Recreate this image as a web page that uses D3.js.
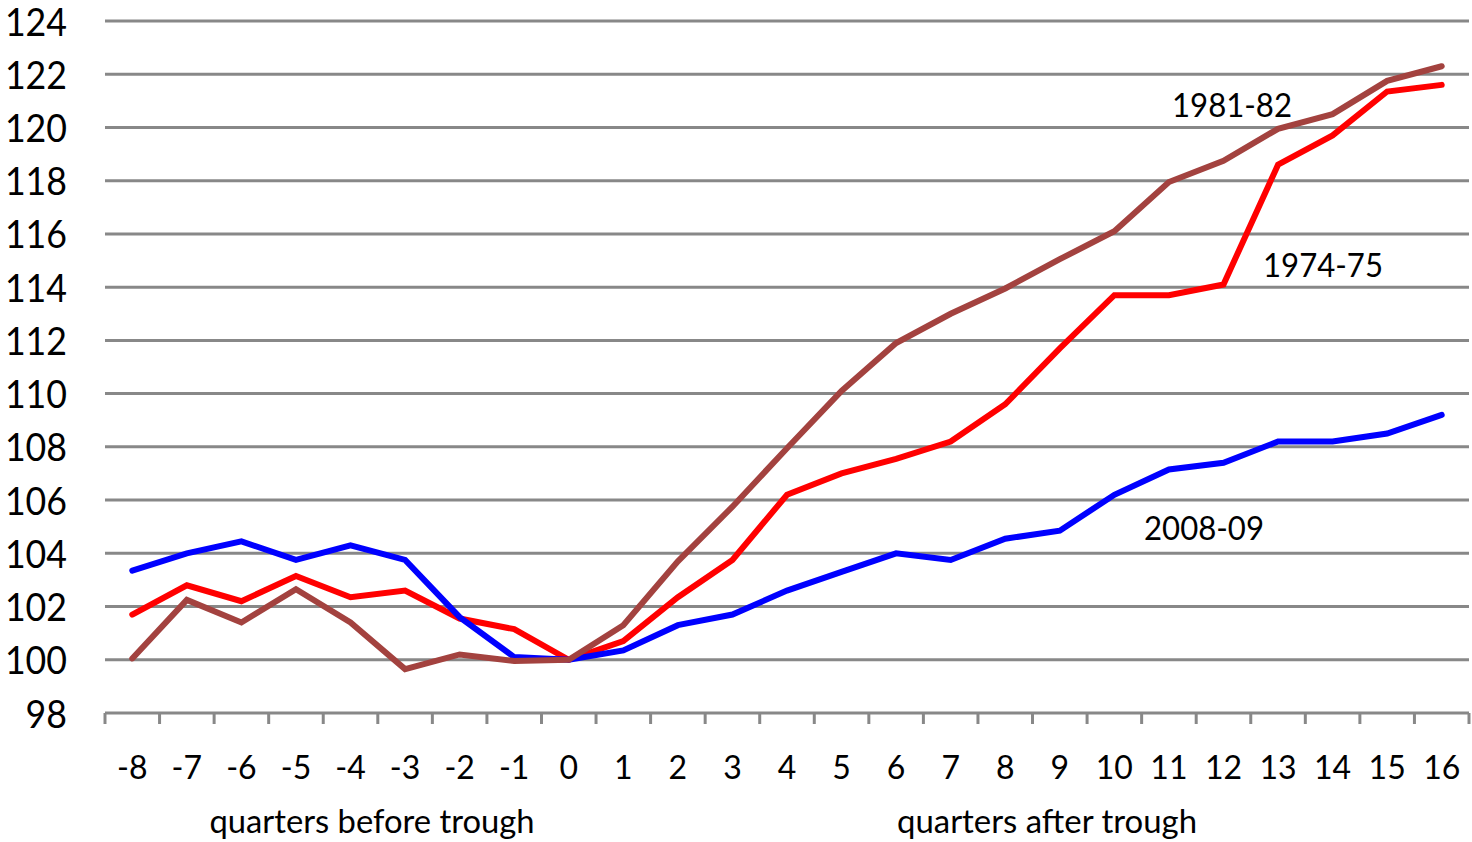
<!DOCTYPE html>
<html>
<head>
<meta charset="utf-8">
<script src="https://cdn.jsdelivr.net/npm/d3@7"></script>
<style>
  html, body { margin: 0; padding: 0; background: #fff; }
  svg { display: block; }
  text { font-family: Lato, "Open Sans", sans-serif; fill: #000; }
</style>
</head>
<body>
<svg id="chart" width="1472" height="842"></svg>
<script>
// Quarters relative to the business-cycle trough
const quarters = ["-8","-7","-6","-5","-4","-3","-2","-1","0","1","2","3","4","5","6","7","8","9","10","11","12","13","14","15","16"];

// Index, trough quarter = 100
const series2008 = [103.35,104.0,104.45,103.75,104.3,103.75,101.6,100.1,100.0,100.35,101.3,101.7,102.6,103.3,104.0,103.75,104.55,104.85,106.2,107.15,107.4,108.2,108.2,108.5,109.2];
const series1974 = [101.7,102.8,102.2,103.15,102.35,102.6,101.55,101.15,100.0,100.7,102.35,103.75,106.2,107.0,107.55,108.2,109.6,111.7,113.7,113.7,114.1,118.6,119.7,121.35,121.6];
const series1981 = [100.05,102.25,101.4,102.65,101.4,99.65,100.2,99.95,100.0,101.3,103.7,105.75,107.95,110.1,111.9,113.0,113.95,115.05,116.1,117.95,118.75,119.95,120.5,121.75,122.3];

const yTicks = [98,100,102,104,106,108,110,112,114,116,118,120,122,124];
const seriesNames = ["2008-09","1974-75","1981-82"];

const svg = d3.select("#chart");
const plot = { left: 105, right: 1469, top: 21, bottom: 713 };

const x = d3.scaleBand().domain(quarters).range([plot.left, plot.right]).padding(0);
const y = d3.scaleLinear().domain([98, 124]).range([plot.bottom, plot.top]);
const cx = q => x(q) + x.bandwidth() / 2;

const gridColor = "#888888";

// Horizontal gridlines (the 98 line doubles as the category axis)
svg.append("g")
  .selectAll("line")
  .data(yTicks)
  .join("line")
  .attr("x1", plot.left).attr("x2", plot.right)
  .attr("y1", d => y(d)).attr("y2", d => y(d))
  .attr("stroke", gridColor)
  .attr("stroke-width", 3);

// Category tick marks at band boundaries
const boundaries = quarters.map(q => x(q)).concat([plot.right]);
svg.append("g")
  .selectAll("line")
  .data(boundaries)
  .join("line")
  .attr("x1", d => d).attr("x2", d => d)
  .attr("y1", plot.bottom).attr("y2", plot.bottom + 11)
  .attr("stroke", gridColor)
  .attr("stroke-width", 3);

// Y axis labels
const yAxis = svg.append("g")
  .attr("transform", `translate(${67},0)`)
  .call(d3.axisLeft(y).tickValues(yTicks).tickSize(0).tickPadding(0));
yAxis.select(".domain").remove();
yAxis.selectAll("text")
  .style("font-family", "Lato, 'Open Sans', sans-serif")
  .attr("font-size", 38)
  .attr("dy", "0.37em")
  .attr("textLength", d => String(d).length * 20.7)
  .attr("lengthAdjust", "spacingAndGlyphs")
  .attr("fill", "#000");

// X axis labels
const xAxis = svg.append("g")
  .attr("transform", `translate(0,${plot.bottom})`)
  .call(d3.axisBottom(x).tickSize(0).tickPadding(0));
xAxis.select(".domain").remove();
xAxis.selectAll("text")
  .style("font-family", "Lato, 'Open Sans', sans-serif")
  .attr("font-size", 32)
  .attr("y", 54)
  .attr("dy", "0.36em")
  .attr("fill", "#000");

// Axis titles
svg.append("text")
  .attr("x", 372).attr("y", 833)
  .attr("text-anchor", "middle")
  .attr("font-size", 33)
  .attr("textLength", 325).attr("lengthAdjust", "spacingAndGlyphs")
  .text("quarters before trough");
svg.append("text")
  .attr("x", 1047).attr("y", 833)
  .attr("text-anchor", "middle")
  .attr("font-size", 33)
  .attr("textLength", 300).attr("lengthAdjust", "spacingAndGlyphs")
  .text("quarters after trough");

// Lines
const line = d3.line()
  .x((d, i) => cx(quarters[i]))
  .y(d => y(d));

const drawn = [
  { values: series1974, color: "#ff0000" },
  { values: series2008, color: "#0000ff" },
  { values: series1981, color: "#a3423f" }
];
svg.append("g")
  .selectAll("path")
  .data(drawn)
  .join("path")
  .attr("d", d => line(d.values))
  .attr("fill", "none")
  .attr("stroke", d => d.color)
  .attr("stroke-width", 6)
  .attr("stroke-linecap", "round")
  .attr("stroke-linejoin", "miter");

// Series labels
const labels = [
  { text: seriesNames[2], x: 1232, y: 117 },
  { text: seriesNames[1], x: 1323, y: 277 },
  { text: seriesNames[0], x: 1204, y: 540 }
];
svg.append("g")
  .selectAll("text")
  .data(labels)
  .join("text")
  .attr("x", d => d.x).attr("y", d => d.y)
  .attr("text-anchor", "middle")
  .attr("font-size", 32)
  .attr("textLength", 120).attr("lengthAdjust", "spacingAndGlyphs")
  .text(d => d.text);
</script>
</body>
</html>
